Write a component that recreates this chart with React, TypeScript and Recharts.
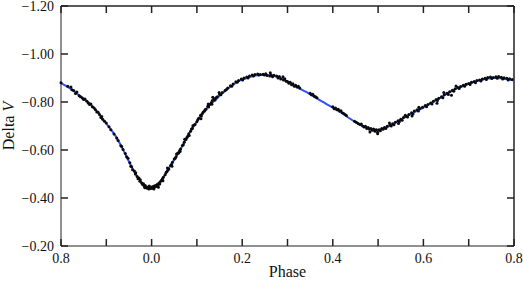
import React from 'react';
import { ComposedChart, XAxis, YAxis, Line, Scatter, ReferenceLine } from 'recharts';

// Fitted light curve (phase, Delta V)
const fitPhase = [
  -0.2, -0.19, -0.18, -0.17, -0.16, -0.15, -0.14, -0.13, -0.12, -0.11, -0.1, -0.09, -0.08, -0.07, -0.06, -0.05, -0.04, -0.03, -0.02, -0.01,
  0.0, 0.01, 0.02, 0.03, 0.04, 0.05, 0.06, 0.07, 0.08, 0.09, 0.1, 0.11, 0.12, 0.13, 0.14, 0.15, 0.16, 0.17, 0.18, 0.19,
  0.2, 0.21, 0.22, 0.23, 0.24, 0.25, 0.26, 0.27, 0.28, 0.29, 0.3, 0.31, 0.32, 0.33, 0.34, 0.35, 0.36, 0.37, 0.38, 0.39,
  0.4, 0.41, 0.42, 0.43, 0.44, 0.45, 0.46, 0.47, 0.48, 0.49, 0.5, 0.51, 0.52, 0.53, 0.54, 0.55, 0.56, 0.57, 0.58, 0.59,
  0.6, 0.61, 0.62, 0.63, 0.64, 0.65, 0.66, 0.67, 0.68, 0.69, 0.7, 0.71, 0.72, 0.73, 0.74, 0.75, 0.76, 0.77, 0.78, 0.79, 0.8,
];
const fitMag = [
  -0.879, -0.868, -0.857, -0.843, -0.828, -0.814, -0.8, -0.782, -0.76, -0.733, -0.71, -0.686, -0.66, -0.627, -0.59, -0.552, -0.515, -0.485, -0.46, -0.445,
  -0.443, -0.452, -0.468, -0.5, -0.53, -0.56, -0.59, -0.624, -0.66, -0.69, -0.72, -0.745, -0.77, -0.79, -0.807, -0.826, -0.842, -0.857, -0.872, -0.884,
  -0.893, -0.9, -0.906, -0.91, -0.912, -0.912, -0.911, -0.908, -0.903, -0.895, -0.885, -0.874, -0.863, -0.853, -0.843, -0.832, -0.82, -0.809, -0.798, -0.787,
  -0.777, -0.766, -0.754, -0.741, -0.728, -0.716, -0.705, -0.697, -0.69, -0.685, -0.683, -0.688, -0.695, -0.705, -0.716, -0.727, -0.737, -0.748, -0.758, -0.767,
  -0.777, -0.788, -0.798, -0.809, -0.82, -0.832, -0.843, -0.853, -0.861, -0.868, -0.875, -0.882, -0.888, -0.893, -0.897, -0.899, -0.9, -0.899, -0.896, -0.893, -0.89,
];

// Observations, flattened pairs: phase, Delta V, phase, Delta V, ...
const obsEgress = [
  -0.2, -0.88, -0.185, -0.866, -0.178, -0.862, -0.176, -0.851, -0.172, -0.848, -0.168, -0.835, -0.165, -0.842,
  -0.16, -0.826, -0.157, -0.822, -0.153, -0.817, -0.15, -0.81, -0.147, -0.812, -0.143, -0.803, -0.14, -0.796,
  -0.137, -0.79, -0.134, -0.792, -0.131, -0.78, -0.127, -0.775, -0.124, -0.768, -0.121, -0.758, -0.118, -0.757,
  -0.115, -0.748, -0.112, -0.735, -0.11, -0.74, -0.108, -0.728,
  -0.104, -0.72, -0.1, -0.712, -0.094, -0.697, -0.09, -0.684, -0.083, -0.667,
  -0.077, -0.65, -0.074, -0.64, -0.068, -0.618, -0.066, -0.615, -0.063, -0.602,
  -0.058, -0.585, -0.055, -0.572, -0.052, -0.566, -0.048, -0.547,
];
const obsPrimary = [
  -0.046, -0.532, -0.044, -0.53, -0.042, -0.518, -0.038, -0.512, -0.036, -0.5,
  -0.032, -0.49, -0.03, -0.48, -0.028, -0.483, -0.026, -0.47, -0.022, -0.462, -0.02, -0.456,
  -0.018, -0.459, -0.016, -0.449, -0.014, -0.452, -0.012, -0.444, -0.01, -0.441, -0.008, -0.446, -0.006, -0.437,
  -0.004, -0.443, -0.002, -0.44, 0.0, -0.446, 0.002, -0.441, 0.004, -0.449, 0.006, -0.444, 0.008, -0.452,
  -0.005, -0.45, -0.015, -0.443, -0.025, -0.476, -0.035, -0.505, 0.005, -0.438,
  0.01, -0.448, 0.012, -0.456, 0.014, -0.452, 0.016, -0.463, 0.018, -0.458, 0.02, -0.47, 0.022, -0.474,
  0.024, -0.48, 0.026, -0.486, 0.03, -0.497, 0.032, -0.506, 0.034, -0.51, 0.036, -0.517,
  0.038, -0.521, 0.042, -0.535, 0.044, -0.54, 0.046, -0.549, 0.05, -0.562,
  0.052, -0.566, 0.054, -0.572, 0.058, -0.587, 0.06, -0.588, 0.062, -0.598, 0.064, -0.604,
  0.068, -0.619, 0.07, -0.622, 0.072, -0.632, 0.076, -0.644, 0.078, -0.652,
  0.08, -0.657, 0.082, -0.668, 0.086, -0.678, 0.088, -0.687, 0.09, -0.69,
  0.094, -0.704, 0.096, -0.706, 0.1, -0.718,
  0.015, -0.445, 0.025, -0.472, 0.035, -0.525, 0.045, -0.532, 0.055, -0.583, 0.063, -0.594, 0.073, -0.645,
  0.083, -0.66, 0.091, -0.701,
];
const obsMax1 = [
  0.102, -0.726, 0.104, -0.732, 0.108, -0.745, 0.11, -0.742, 0.112, -0.752, 0.114, -0.758,
  0.118, -0.768, 0.12, -0.77, 0.124, -0.782, 0.126, -0.779, 0.128, -0.79,
  0.132, -0.798, 0.134, -0.806, 0.138, -0.812, 0.14, -0.808, 0.142, -0.818,
  0.145, -0.822, 0.15, -0.832, 0.153, -0.83, 0.156, -0.84, 0.162, -0.848,
  0.165, -0.852, 0.168, -0.858, 0.174, -0.868, 0.177, -0.866, 0.18, -0.875,
  0.186, -0.884, 0.189, -0.882, 0.192, -0.89, 0.198, -0.896,
  0.125, -0.792, 0.135, -0.82, 0.133, -0.791, 0.117, -0.763, 0.109, -0.73, 0.149, -0.84,
  0.201, -0.892, 0.204, -0.9, 0.21, -0.904, 0.213, -0.9, 0.216, -0.908,
  0.222, -0.912, 0.225, -0.908, 0.228, -0.915, 0.234, -0.917, 0.237, -0.912, 0.24, -0.915,
  0.246, -0.916, 0.249, -0.912, 0.252, -0.918, 0.255, -0.91, 0.261, -0.908,
  0.264, -0.913, 0.267, -0.905, 0.27, -0.911, 0.276, -0.908, 0.279, -0.9, 0.282, -0.906,
  0.285, -0.896, 0.291, -0.892, 0.294, -0.897, 0.297, -0.886, 0.262, -0.922, 0.29, -0.905,
];
const obsSecondary = [
  0.3, -0.885, 0.303, -0.878, 0.306, -0.882, 0.309, -0.872, 0.312, -0.876, 0.315, -0.866, 0.318, -0.87,
  0.321, -0.862, 0.324, -0.866, 0.327, -0.858, 0.35, -0.836, 0.353, -0.83, 0.356, -0.832, 0.359, -0.824,
  0.362, -0.822, 0.365, -0.818,
  0.4, -0.78, 0.403, -0.772, 0.406, -0.775, 0.409, -0.768, 0.412, -0.77, 0.415, -0.762, 0.418, -0.764,
  0.421, -0.755, 0.424, -0.752, 0.427, -0.748, 0.43, -0.744,
  0.448, -0.72, 0.452, -0.716, 0.456, -0.71, 0.46, -0.706, 0.463, -0.708, 0.466, -0.7, 0.469, -0.696,
  0.472, -0.699, 0.475, -0.69, 0.478, -0.694, 0.481, -0.686, 0.484, -0.69, 0.487, -0.682, 0.49, -0.688,
  0.493, -0.678, 0.496, -0.684, 0.499, -0.674, 0.502, -0.684, 0.505, -0.68, 0.508, -0.69, 0.511, -0.686,
  0.499, -0.668, 0.482, -0.675,
];
const obsMax2 = [
  0.514, -0.694, 0.517, -0.69, 0.52, -0.699, 0.526, -0.704, 0.529, -0.7, 0.532, -0.709,
  0.535, -0.705, 0.538, -0.716, 0.544, -0.722, 0.547, -0.718, 0.55, -0.728, 0.553, -0.724,
  0.556, -0.735, 0.562, -0.741, 0.565, -0.737, 0.568, -0.748, 0.574, -0.755,
  0.577, -0.75, 0.58, -0.762, 0.586, -0.768, 0.589, -0.763, 0.592, -0.773,
  0.598, -0.778, 0.525, -0.712, 0.545, -0.71, 0.56, -0.745, 0.575, -0.742, 0.59, -0.778,
  0.604, -0.785, 0.607, -0.78, 0.61, -0.79, 0.616, -0.796, 0.619, -0.792,
  0.622, -0.803, 0.628, -0.81, 0.631, -0.806, 0.634, -0.816, 0.64, -0.822,
  0.643, -0.818, 0.646, -0.83, 0.652, -0.836, 0.655, -0.831, 0.658, -0.843,
  0.664, -0.849, 0.667, -0.845, 0.67, -0.855, 0.676, -0.86, 0.679, -0.856, 0.682, -0.865,
  0.688, -0.87, 0.691, -0.866, 0.694, -0.874,
  0.645, -0.84, 0.662, -0.828, 0.672, -0.867, 0.63, -0.795,
  0.7, -0.877, 0.703, -0.873, 0.706, -0.882, 0.712, -0.885, 0.715, -0.88, 0.718, -0.89,
  0.724, -0.892, 0.727, -0.888, 0.73, -0.896, 0.736, -0.899, 0.739, -0.894,
  0.742, -0.902, 0.748, -0.904, 0.751, -0.898, 0.754, -0.902, 0.76, -0.905,
  0.763, -0.899, 0.766, -0.906, 0.772, -0.903, 0.775, -0.896, 0.778, -0.901,
  0.784, -0.899, 0.787, -0.892, 0.79, -0.897, 0.796, -0.894,
];

const xTicks = [-0.2, -0.1, 0.0, 0.1, 0.2, 0.3, 0.4, 0.5, 0.6, 0.7, 0.8];
const xLabels = ['0.8', '', '0.0', '', '0.2', '', '0.4', '', '0.6', '', '0.8'];
const yTicks = [-1.2, -1.0, -0.8, -0.6, -0.4, -0.2];
const yLabels = ['\u22121.20', '\u22121.00', '\u22120.80', '\u22120.60', '\u22120.40', '\u22120.20'];

const fitData = fitPhase.map((p, i) => ({ p, v: fitMag[i] }));
const allObs = obsEgress.concat(obsPrimary, obsMax1, obsSecondary, obsMax2);
const obsData = [];
for (let i = 0; i + 1 < allObs.length; i += 2) obsData.push({ p: allObs[i], v: allObs[i + 1] });

const PLOT_TOP = 6;
const PLOT_RIGHT = 514;
const FONT = 'Liberation Serif';
const AXIS = '#222';
const TICK_LEN = 7;

function labelFor(ticks, labels, v) {
  const i = ticks.findIndex((t) => Math.abs(t - v) < 1e-6);
  return i >= 0 ? labels[i] : '';
}

function BottomTick(props) {
  const { x, y, payload } = props;
  const text = labelFor(xTicks, xLabels, payload.value);
  return (
    <g>
      <line x1={x} y1={y} x2={x} y2={y - TICK_LEN} stroke={AXIS} strokeWidth={1.5} />
      <line x1={x} y1={PLOT_TOP} x2={x} y2={PLOT_TOP + TICK_LEN} stroke={AXIS} strokeWidth={1.5} />
      {text ? (
        <text x={x} y={y + 17} textAnchor="middle" fontFamily={FONT} fontSize={14} fill="#111">{text}</text>
      ) : null}
    </g>
  );
}
function LeftTick(props) {
  const { x, y, payload } = props;
  const text = labelFor(yTicks, yLabels, payload.value);
  return (
    <g>
      <line x1={x} y1={y} x2={x + TICK_LEN} y2={y} stroke={AXIS} strokeWidth={1.5} />
      <line x1={PLOT_RIGHT} y1={y} x2={PLOT_RIGHT - TICK_LEN} y2={y} stroke={AXIS} strokeWidth={1.5} />
      <text x={x - 7} y={y + 5} textAnchor="end" fontFamily={FONT} fontSize={14} fill="#111">{text}</text>
    </g>
  );
}
function Dot(props) {
  const { cx, cy } = props;
  return <circle cx={cx} cy={cy} r={1.5} fill="#0a0a0a" />;
}

export default function App() {
  return (
    <div style={{ position: 'absolute', left: 0, top: 0 }}>
      <ComposedChart width={523} height={281} margin={{ top: 6, right: 9, bottom: 0, left: 0 }}>
        <XAxis xAxisId="b" dataKey="p" type="number" domain={[-0.2, 0.8]} ticks={xTicks} interval={0} height={35}
          tickSize={0} tickMargin={0} tickLine={false} stroke={AXIS}
          tick={(p) => <BottomTick {...p} />} />
        <YAxis yAxisId="l" dataKey="v" type="number" domain={[-1.2, -0.2]} reversed ticks={yTicks} interval={0} width={61}
          tickSize={0} tickMargin={0} tickLine={false} stroke={AXIS}
          tick={(p) => <LeftTick {...p} />} />
        <ReferenceLine xAxisId="b" yAxisId="l" x={0.8} stroke={AXIS} strokeWidth={1.5} />
        <ReferenceLine xAxisId="b" yAxisId="l" y={-1.2} stroke={AXIS} strokeWidth={1.5} />
        <Line xAxisId="b" yAxisId="l" data={fitData} dataKey="v" type="monotone" stroke="#2f52f5" strokeWidth={2}
          dot={false} activeDot={false} isAnimationActive={false} />
        <Scatter xAxisId="b" yAxisId="l" data={obsData} dataKey="v" shape={(p) => <Dot {...p} />}
          isAnimationActive={false} />
        <text x={287.5} y={277} textAnchor="middle" fontFamily={FONT} fontSize={16} fill="#111">Phase</text>
        <text x={14} y={126} textAnchor="middle" fontFamily={FONT} fontSize={16} fill="#111"
          transform="rotate(-90 14 126)">
          {'Delta\u00a0'}<tspan fontStyle="italic">V</tspan>
        </text>
      </ComposedChart>
    </div>
  );
}
